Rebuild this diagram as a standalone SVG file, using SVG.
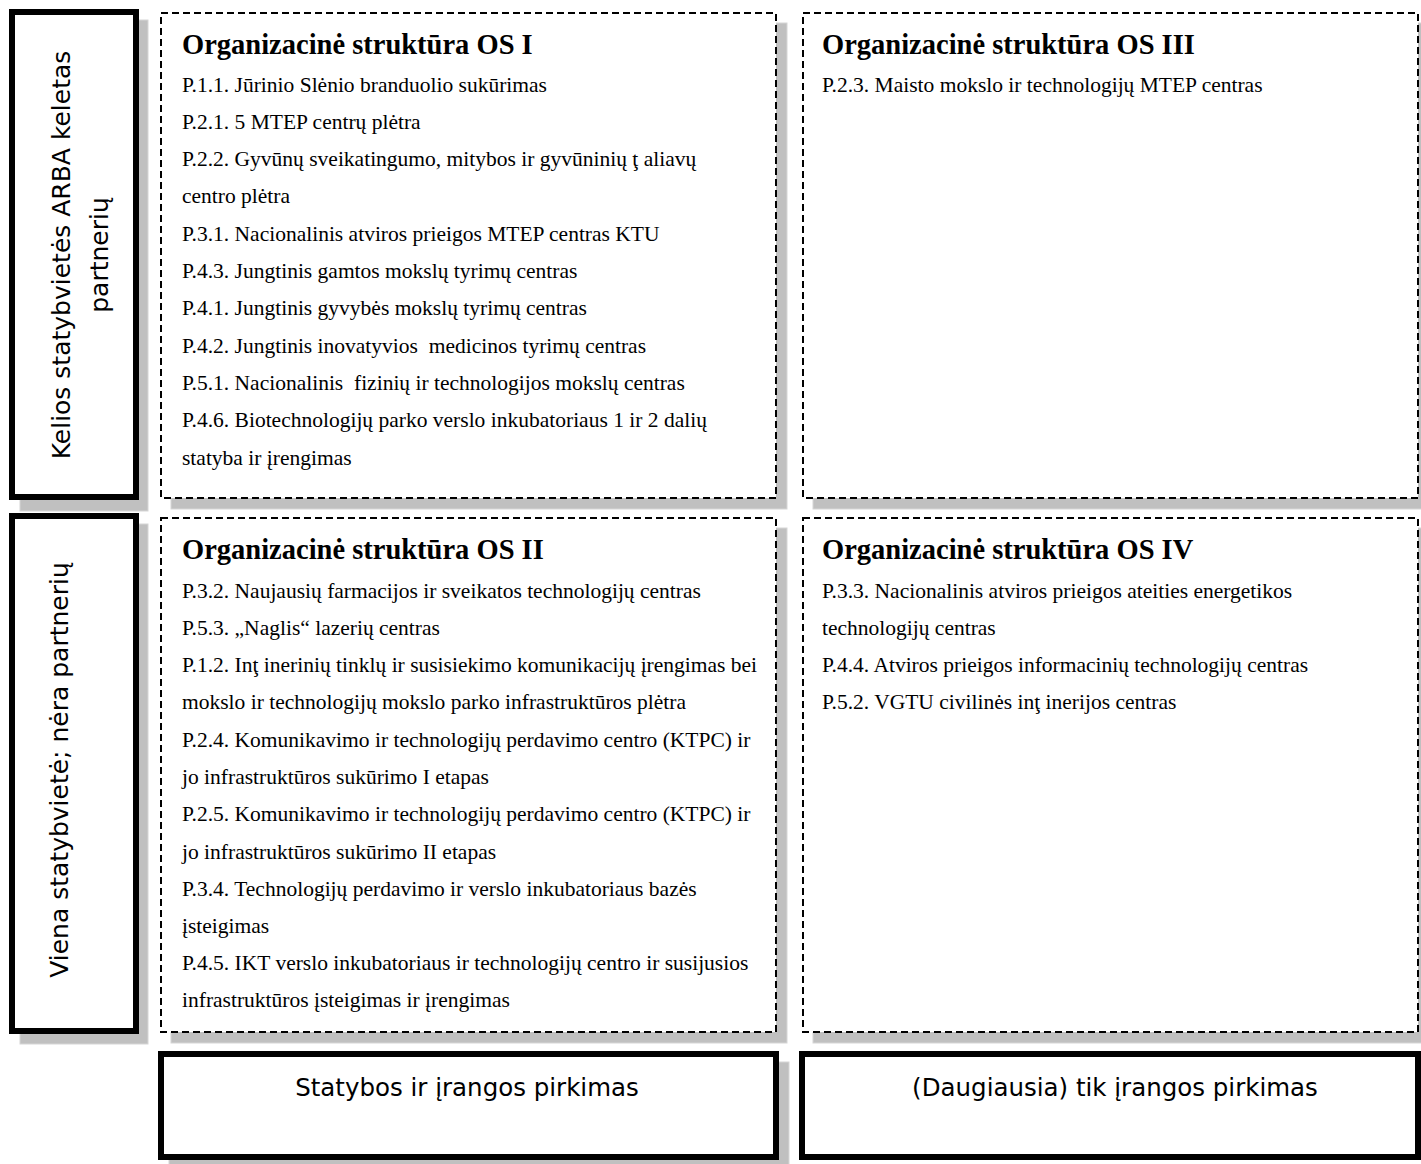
<svg xmlns="http://www.w3.org/2000/svg" width="1421" height="1164" viewBox="0 0 1421 1164">
  <style>
    .shadow { fill: #c0c0c0; stroke: #d6d6d6; stroke-width: 1; }
    .solid { fill: #ffffff; stroke: #000000; stroke-width: 6; }
    .dashed { fill: #ffffff; stroke: #000000; stroke-width: 2; stroke-dasharray: 7 4; }
    .side { font-family: "DejaVu Sans", "Open Sans", sans-serif; font-size: 25px; fill: #000; text-anchor: middle; }
    .title { font-family: "Liberation Serif", "Times New Roman", serif; font-size: 28.5px; font-weight: bold; fill: #000; }
    .item { font-family: "Liberation Serif", "Times New Roman", serif; font-size: 21.5px; fill: #000; white-space: pre; }
    .foot { font-family: "DejaVu Sans", "Open Sans", sans-serif; font-size: 24.5px; fill: #000; text-anchor: middle; }
  </style>

  <!-- left-hand row labels -->
  <g id="row-many-sites">
    <rect class="shadow" x="20" y="20" width="128" height="491"/>
    <rect class="solid" x="12" y="12" width="124" height="485"/>
    <text class="side" transform="translate(70,255) rotate(-90)">Kelios statybvietės ARBA keletas</text>
    <text class="side" transform="translate(108,255) rotate(-90)">partnerių</text>
  </g>
  <g id="row-single-site">
    <rect class="shadow" x="20" y="524" width="128" height="520"/>
    <rect class="solid" x="12" y="516" width="124" height="515"/>
    <text class="side" transform="translate(68,770) rotate(-90)">Viena statybvietė; nėra partnerių</text>
  </g>

  <!-- OS I -->
  <g id="os-1">
    <rect class="shadow" x="171" y="23" width="616" height="486"/>
    <rect class="dashed" x="161" y="13" width="615" height="485"/>
    <text class="title" x="182" y="54">Organizacinė struktūra OS I</text>
    <text class="item" x="182" y="92">P.1.1. Jūrinio Slėnio branduolio sukūrimas</text>
    <text class="item" x="182" y="129">P.2.1. 5 MTEP centrų plėtra</text>
    <text class="item" x="182" y="166">P.2.2. Gyvūnų sveikatingumo, mitybos ir gyvūninių ţ aliavų</text>
    <text class="item" x="182" y="203">centro plėtra</text>
    <text class="item" x="182" y="241">P.3.1. Nacionalinis atviros prieigos MTEP centras KTU</text>
    <text class="item" x="182" y="278">P.4.3. Jungtinis gamtos mokslų tyrimų centras</text>
    <text class="item" x="182" y="315">P.4.1. Jungtinis gyvybės mokslų tyrimų centras</text>
    <text class="item" x="182" y="353">P.4.2. Jungtinis inovatyvios  medicinos tyrimų centras</text>
    <text class="item" x="182" y="390">P.5.1. Nacionalinis  fizinių ir technologijos mokslų centras</text>
    <text class="item" x="182" y="427">P.4.6. Biotechnologijų parko verslo inkubatoriaus 1 ir 2 dalių</text>
    <text class="item" x="182" y="465">statyba ir įrengimas</text>
  </g>

  <!-- OS III -->
  <g id="os-3">
    <rect class="shadow" x="813" y="23" width="616" height="486"/>
    <rect class="dashed" x="803" y="13" width="615" height="485"/>
    <text class="title" x="822" y="54">Organizacinė struktūra OS III</text>
    <text class="item" x="822" y="92">P.2.3. Maisto mokslo ir technologijų MTEP centras</text>
  </g>

  <!-- OS II -->
  <g id="os-2">
    <rect class="shadow" x="171" y="528" width="616" height="515"/>
    <rect class="dashed" x="161" y="518" width="615" height="514"/>
    <text class="title" x="182" y="559">Organizacinė struktūra OS II</text>
    <text class="item" x="182" y="598">P.3.2. Naujausių farmacijos ir sveikatos technologijų centras</text>
    <text class="item" x="182" y="635">P.5.3. „Naglis“ lazerių centras</text>
    <text class="item" x="182" y="672">P.1.2. Inţ inerinių tinklų ir susisiekimo komunikacijų įrengimas bei</text>
    <text class="item" x="182" y="709">mokslo ir technologijų mokslo parko infrastruktūros plėtra</text>
    <text class="item" x="182" y="747">P.2.4. Komunikavimo ir technologijų perdavimo centro (KTPC) ir</text>
    <text class="item" x="182" y="784">jo infrastruktūros sukūrimo I etapas</text>
    <text class="item" x="182" y="821">P.2.5. Komunikavimo ir technologijų perdavimo centro (KTPC) ir</text>
    <text class="item" x="182" y="859">jo infrastruktūros sukūrimo II etapas</text>
    <text class="item" x="182" y="896">P.3.4. Technologijų perdavimo ir verslo inkubatoriaus bazės</text>
    <text class="item" x="182" y="933">įsteigimas</text>
    <text class="item" x="182" y="970">P.4.5. IKT verslo inkubatoriaus ir technologijų centro ir susijusios</text>
    <text class="item" x="182" y="1007">infrastruktūros įsteigimas ir įrengimas</text>
  </g>

  <!-- OS IV -->
  <g id="os-4">
    <rect class="shadow" x="813" y="528" width="616" height="515"/>
    <rect class="dashed" x="803" y="518" width="615" height="514"/>
    <text class="title" x="822" y="559">Organizacinė struktūra OS IV</text>
    <text class="item" x="822" y="598">P.3.3. Nacionalinis atviros prieigos ateities energetikos</text>
    <text class="item" x="822" y="635">technologijų centras</text>
    <text class="item" x="822" y="672">P.4.4. Atviros prieigos informacinių technologijų centras</text>
    <text class="item" x="822" y="709">P.5.2. VGTU civilinės inţ inerijos centras</text>
  </g>

  <!-- column footers -->
  <g id="col-construction">
    <rect class="shadow" x="169" y="1062" width="620" height="110"/>
    <rect class="solid" x="161" y="1054" width="615" height="103"/>
    <text class="foot" x="467" y="1096">Statybos ir įrangos pirkimas</text>
  </g>
  <g id="col-equipment">
    <rect class="solid" x="802" y="1054" width="616" height="103"/>
    <text class="foot" x="1115" y="1096">(Daugiausia) tik įrangos pirkimas</text>
  </g>

  <g id="connectors"/>
</svg>
